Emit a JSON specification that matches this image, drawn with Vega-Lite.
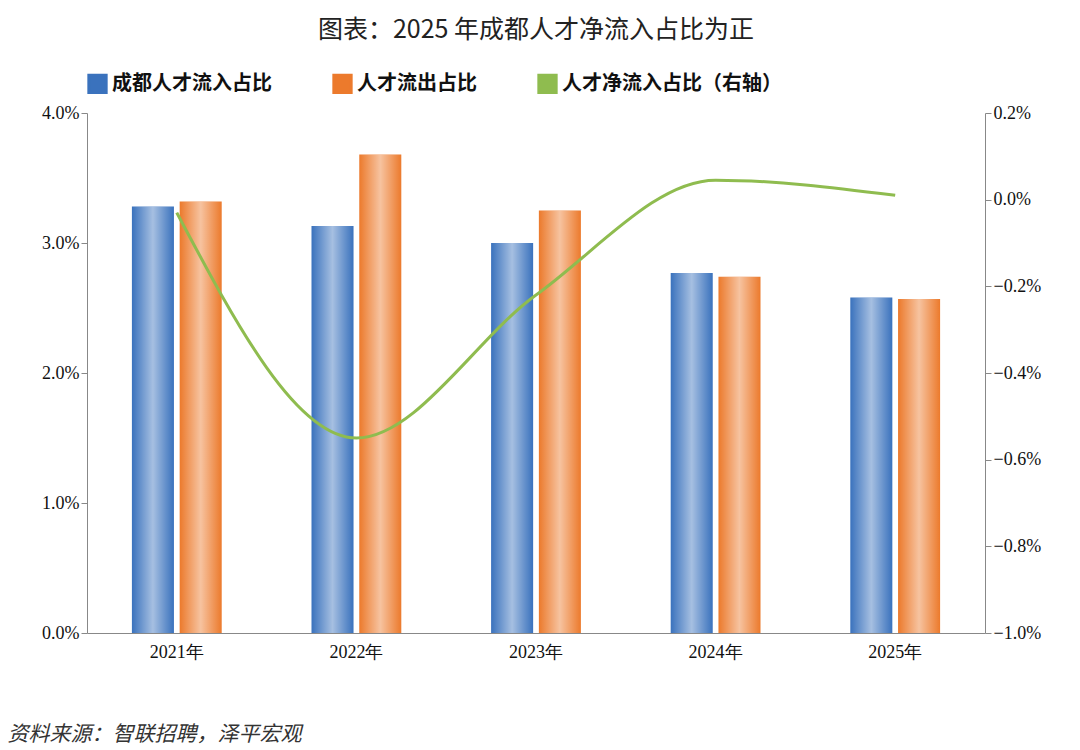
{
"$schema":"https://vega.github.io/schema/vega-lite/v6.json",
"width":898,"height":520,
"autosize":"none",
"padding":{"left":87,"top":113,"right":95,"bottom":117},
"background":"white",
"title":{"text":"图表：2025 年成都人才净流入占比为正","font":"Noto Sans CJK SC","fontSize":25,"fontWeight":"normal","color":"#222","anchor":"middle","offset":30},
"config":{"view":{"stroke":null},"axis":{"labelFont":"Liberation Serif","labelFontSize":18,"labelColor":"#111","domainColor":"#888","tickColor":"#888","grid":false},
"legend":{"labelFont":"Noto Sans CJK SC","labelFontSize":20,"labelFontWeight":"bold","labelColor":"#111","labelLimit":400}},
"datasets":{
"bars":[
{"year":"2021年","s":"成都人才流入占比","v":0.0328},
{"year":"2021年","s":"人才流出占比","v":0.0332},
{"year":"2022年","s":"成都人才流入占比","v":0.0313},
{"year":"2022年","s":"人才流出占比","v":0.0368},
{"year":"2023年","s":"成都人才流入占比","v":0.0300},
{"year":"2023年","s":"人才流出占比","v":0.0325},
{"year":"2024年","s":"成都人才流入占比","v":0.0277},
{"year":"2024年","s":"人才流出占比","v":0.0274},
{"year":"2025年","s":"成都人才流入占比","v":0.0258},
{"year":"2025年","s":"人才流出占比","v":0.0257}],
"line":[
{"year":"2021年","s":"人才净流入占比（右轴）","v":-0.0003},
{"year":"2022年","s":"人才净流入占比（右轴）","v":-0.0055},
{"year":"2023年","s":"人才净流入占比（右轴）","v":-0.0022},
{"year":"2024年","s":"人才净流入占比（右轴）","v":0.00045},
{"year":"2025年","s":"人才净流入占比（右轴）","v":0.0001}]},
"encoding":{"x":{"field":"year","type":"nominal","scale":{"paddingInner":0.5,"paddingOuter":0.25},
 "axis":{"labelAngle":0,"ticks":false,"labelPadding":10,"title":"资料来源：智联招聘，泽平宏观","titleFont":"Noto Sans CJK SC","titleFontStyle":"italic","titleFontWeight":"normal","titleFontSize":21,"titleColor":"#333","titleAnchor":"start","titleX":-80,"titleY":90}}},
"layer":[
{"data":{"name":"bars"},"layer":[
 {"mark":{"type":"bar"},
  "encoding":{"xOffset":{"field":"s","type":"nominal","sort":["成都人才流入占比","人才流出占比"],"scale":{"paddingInner":0.12}},
  "y":{"field":"v","type":"quantitative","scale":{"domain":[0,0.04]},"axis":{"format":".1%","tickCount":5,"title":null,"tickSize":6}},
  "color":{"field":"s","type":"nominal","scale":{"domain":["成都人才流入占比","人才流出占比","人才净流入占比（右轴）"],"range":["#3a72bd","#ec7a2c","#8fbc4f"]},"legend":{"orient":"top","title":null,"offset":14,"symbolType":"square","symbolSize":300,"columnPadding":55,"symbolStrokeWidth":3}}}},
 {"mark":{"type":"bar","fill":{"x1":0,"x2":1,"y1":0,"y2":0,"gradient":"linear","stops":[{"offset":0,"color":"rgba(255,255,255,0)"},{"offset":0.5,"color":"rgba(255,255,255,0.55)"},{"offset":1,"color":"rgba(255,255,255,0)"}]}},
  "encoding":{"xOffset":{"field":"s","type":"nominal","sort":["成都人才流入占比","人才流出占比"]},"y":{"field":"v","type":"quantitative"}}}
]},
{"data":{"name":"line"},"mark":{"type":"line","interpolate":"monotone","strokeWidth":3},
 "encoding":{"y":{"field":"v","type":"quantitative","scale":{"domain":[-0.01,0.002]},"axis":{"orient":"right","format":".1%","values":[-0.01,-0.008,-0.006,-0.004,-0.002,0,0.002],"title":null,"tickSize":6}},
 "color":{"field":"s","type":"nominal"}}}
],
"resolve":{"scale":{"y":"independent"}}
}
